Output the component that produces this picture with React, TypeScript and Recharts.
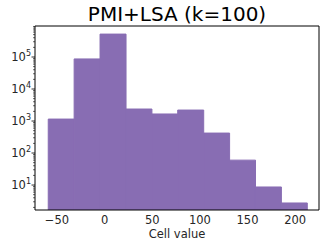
import { BarChart, Bar, XAxis, YAxis } from 'recharts';

// histogram bins (log-scaled counts)
const binEdges = [-59.1, -32.1, -5.6, 21.4, 48.7, 76.0, 103.0, 130.7, 158.0, 185.3, 212.6];
const binCounts = [1150, 87000, 520000, 2370, 1660, 2200, 420, 60, 8.7, 2.75];

const xTicks = [-50, 0, 50, 100, 150, 200];
const yMajorTicks = [10, 100, 1000, 10000, 100000];

const X_DOMAIN: [number, number] = [-73, 225];
const Y_DOMAIN: [number, number] = [1.66, 930000];

const data = binCounts.map((count, i) => ({
  bin: i,
  center: (binEdges[i] + binEdges[i + 1]) / 2,
  count,
}));

const yMinorTicks: number[] = [];
for (let e = 0; e <= 5; e++) {
  for (let m = 2; m <= 9; m++) {
    const v = m * Math.pow(10, e);
    if (v > Y_DOMAIN[0] && v < Y_DOMAIN[1]) yMinorTicks.push(v);
  }
}
const yTicks = [...yMajorTicks, ...yMinorTicks].sort((a, b) => a - b);

const FONT = '"DejaVu Sans", sans-serif';
const BAR_COLOR = '#886db3';
const TEXT = '#262626';

const W = 326;
const H = 241;
const PLOT = { left: 35, right: 319, top: 26, bottom: 210 };

// pixel padding so the category bands line up with the bin edges
const pxPerUnit = (PLOT.right - PLOT.left) / (X_DOMAIN[1] - X_DOMAIN[0]);
const padLeft = (binEdges[0] - X_DOMAIN[0]) * pxPerUnit;
const padRight = (X_DOMAIN[1] - binEdges[binEdges.length - 1]) * pxPerUnit;

const fmtX = (v: number) => (v < 0 ? `\u2212${Math.abs(v)}` : `${v}`);

const YTick = (props: any) => {
  const { x, y, payload } = props;
  const exp = Math.log10(payload.value);
  const major = Math.abs(exp - Math.round(exp)) < 1e-6;
  if (!major) {
    return <line x1={x - 2} x2={x} y1={y} y2={y} stroke="#000" strokeWidth={0.6} />;
  }
  return (
    <g>
      <line x1={x - 3.5} x2={x} y1={y} y2={y} stroke="#000" strokeWidth={0.8} />
      <text x={x - 4} y={y + 4} textAnchor="end" fontFamily={FONT} fill={TEXT}>
        <tspan fontSize={11.5}>10</tspan>
        <tspan fontSize={8} dy={-5}>{Math.round(exp)}</tspan>
      </text>
    </g>
  );
};

const XTick = (props: any) => {
  const { x, y, payload } = props;
  return (
    <text x={x} y={y + 14} textAnchor="middle" fontFamily={FONT} fontSize={11.5} fill={TEXT}>
      {fmtX(payload.value)}
    </text>
  );
};

export default function App() {
  return (
    <div style={{ position: 'absolute', left: 0, top: 0, width: W, height: H, background: '#fff' }}>
      <BarChart
        width={W}
        height={H}
        data={data}
        margin={{ top: 0, right: 0, bottom: 0, left: 0 }}
        barCategoryGap={0}
        barGap={0}
      >
        <XAxis
          xAxisId="cat"
          dataKey="bin"
          type="category"
          hide
          padding={{ left: padLeft, right: padRight }}
        />
        <XAxis
          dataKey="center"
          type="number"
          domain={X_DOMAIN}
          ticks={xTicks}
          allowDataOverflow
          height={H - PLOT.bottom}
          tickSize={0}
          tickMargin={0}
          tickLine={false}
          tick={<XTick />}
          axisLine={{ stroke: '#000', strokeWidth: 1 }}
          label={{
            content: ({ viewBox }: any) => (
              <text
                x={viewBox.x + viewBox.width / 2}
                y={238}
                textAnchor="middle"
                fontFamily={FONT}
                fontSize={11.5}
                fill={TEXT}
              >
                Cell value
              </text>
            ),
          }}
        />
        <XAxis
          xAxisId="top"
          orientation="top"
          type="number"
          domain={X_DOMAIN}
          height={PLOT.top}
          tick={false}
          tickLine={false}
          axisLine={{ stroke: '#000', strokeWidth: 1 }}
          label={{
            content: ({ viewBox }: any) => (
              <text
                x={viewBox.x + viewBox.width / 2}
                y={21}
                textAnchor="middle"
                fontFamily={FONT}
                fontSize={20}
                fill="#000"
              >
                PMI+LSA (k=100)
              </text>
            ),
          }}
        />
        <YAxis
          scale="log"
          domain={Y_DOMAIN}
          allowDataOverflow
          ticks={yTicks}
          interval={0}
          width={PLOT.left}
          tickSize={0}
          tickMargin={0}
          tickLine={false}
          tick={<YTick />}
          axisLine={{ stroke: '#000', strokeWidth: 1 }}
        />
        <YAxis
          yAxisId="right"
          orientation="right"
          width={W - PLOT.right}
          tick={false}
          tickLine={false}
          axisLine={{ stroke: '#000', strokeWidth: 1 }}
        />
        <Bar
          xAxisId="cat"
          dataKey="count"
          fill={BAR_COLOR}
          stroke={BAR_COLOR}
          strokeWidth={1}
          isAnimationActive={false}
        />
      </BarChart>
    </div>
  );
}
